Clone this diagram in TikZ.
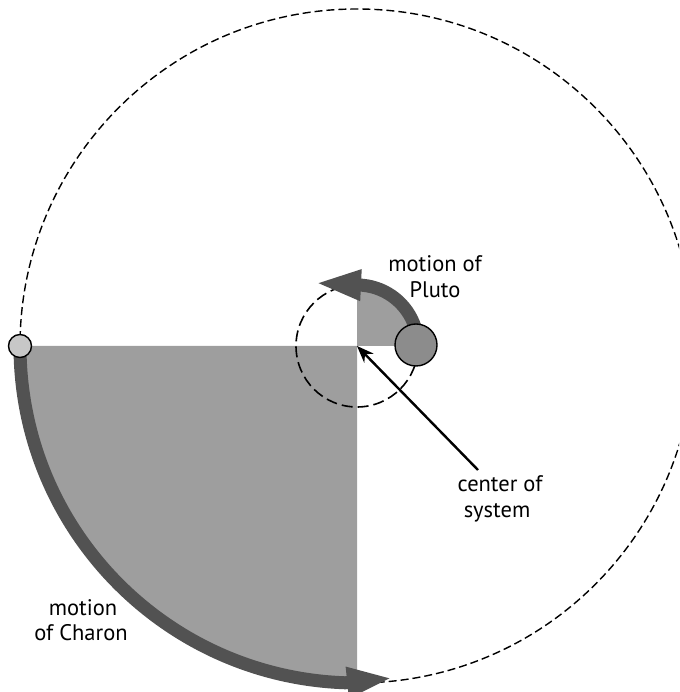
\documentclass[tikz,border=0pt]{standalone}
\usepackage{fontspec}
\setmainfont{PT Sans}
\usetikzlibrary{arrows.meta}
\begin{document}
\begin{tikzpicture}[x=1pt,y=1pt,
 shadearea/.style={fill=black!38},
 bigdash/.style={line width=1.4pt, dash pattern=on 8pt off 4pt},
 smalldash/.style={line width=1.6pt, dash pattern=on 11pt off 5pt},
 motion/.style={line width=13pt, draw=black!68, -{Triangle[length=46pt,width=28pt]}},
 ball/.style={circle, draw, line width=1.4pt, inner sep=0pt},
 pointer/.style={line width=2.4pt, -{Stealth[length=17pt,width=13pt]}},
 lbl/.style={font=\fontsize{22.5}{27}\selectfont, inner sep=0pt, anchor=base}]
\useasboundingbox (0,0) rectangle (679,692);
\coordinate (c) at (357,346);
\begin{scope}
\clip (0,0) rectangle (679,692);
\fill[shadearea] (c) -- ++(-337,0) arc (180:270:337) -- cycle;
\fill[shadearea] (c) -- ++(58,0) arc (0:90:58) -- cycle;
\draw[bigdash] (c) circle (337);
\draw[smalldash] (c) circle (61);
\end{scope}
\coordinate (chs) at ([shift={(180:337)}]c);
\coordinate (cht) at (393,14);
\draw[motion] (chs) arc (180:268:337) -- (cht);
\coordinate (pls) at ([shift={(18:61)}]c);
\coordinate (plt) at (315,409);
\draw[motion] (pls) arc (18:85:61) -- (plt);
\node[ball, fill=black!45, minimum size=42pt] (pluto) at (416,347) {};
\node[ball, fill=black!22, minimum size=23pt] (charon) at (20,346) {};
\coordinate (cl) at (478,222);
\draw[pointer] (cl) -- (c);
\node[lbl] (mp1) at (435,420) {motion of};
\node[lbl] (mp2) at (435,394) {Pluto};
\node[lbl] (cs1) at (500,200) {center of};
\node[lbl] (cs2) at (497,174) {system};
\node[lbl] (mc1) at (83,76) {motion};
\node[lbl] (mc2) at (81,51) {of Charon};
\end{tikzpicture}
\end{document}
